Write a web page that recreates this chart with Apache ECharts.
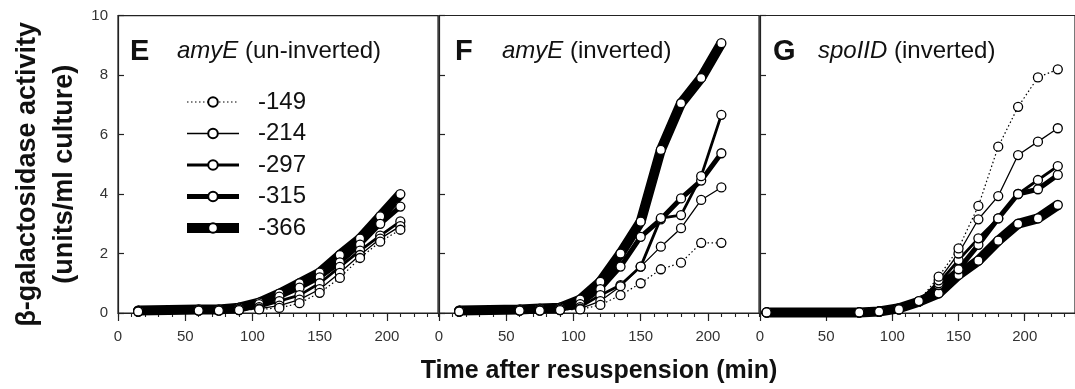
<!DOCTYPE html>
<html><head><meta charset="utf-8">
<script src="https://cdn.jsdelivr.net/npm/echarts@6/dist/echarts.min.js"></script>
<style>html,body{margin:0;padding:0;background:#fff}#c{width:1075px;height:389px}</style>
</head><body><div id="c"></div>
<script>
// ---- data ----
const seriesNames = ['-149', '-214', '-297', '-315', '-366'];
const xTickStep = 50;
const yTickStep = 2;

const timesE = [15, 60, 75, 90, 105, 120, 135, 150, 165, 180, 195, 210];
const timesF = [15, 60, 75, 90, 105, 120, 135, 150, 165, 180, 195, 210];
const timesG = [5, 75, 90, 105, 120, 135, 150, 165, 180, 195, 210, 225];

// Panel E: amyE (un-inverted)
const e149 = [0.05, 0.08, 0.08, 0.10, 0.12, 0.17, 0.33, 0.68, 1.18, 1.85, 2.40, 2.80];
const e214 = [0.05, 0.08, 0.08, 0.10, 0.15, 0.25, 0.45, 0.80, 1.35, 1.95, 2.50, 2.92];
const e297 = [0.05, 0.10, 0.10, 0.12, 0.20, 0.40, 0.60, 1.00, 1.55, 2.10, 2.60, 3.08];
const e315 = [0.08, 0.10, 0.10, 0.15, 0.30, 0.55, 0.85, 1.20, 1.70, 2.30, 3.00, 3.58];
const e366 = [0.08, 0.12, 0.12, 0.18, 0.35, 0.65, 1.00, 1.36, 1.95, 2.50, 3.25, 4.00];

// Panel F: amyE (inverted)
const f149 = [0.05, 0.08, 0.08, 0.10, 0.12, 0.27, 0.60, 1.00, 1.47, 1.69, 2.36, 2.36];
const f214 = [0.05, 0.08, 0.08, 0.10, 0.15, 0.40, 0.90, 1.56, 2.23, 2.85, 3.80, 4.22];
const f297 = [0.05, 0.10, 0.10, 0.12, 0.20, 0.60, 0.94, 1.56, 3.19, 3.29, 4.60, 6.66];
const f315 = [0.08, 0.10, 0.12, 0.15, 0.30, 0.80, 1.56, 2.56, 3.15, 3.85, 4.45, 5.37];
const f366 = [0.08, 0.12, 0.15, 0.18, 0.45, 1.05, 2.00, 3.07, 5.48, 7.05, 7.90, 9.07];

// Panel G: spoIID (inverted)
const g149 = [0.02, 0.02, 0.05, 0.12, 0.40, 1.22, 2.17, 3.60, 5.59, 6.93, 7.92, 8.19];
const g214 = [0.02, 0.02, 0.05, 0.12, 0.40, 1.10, 2.00, 3.15, 3.93, 5.31, 5.76, 6.21];
const g297 = [0.02, 0.02, 0.05, 0.12, 0.38, 1.00, 1.78, 2.51, 3.18, 4.00, 4.47, 4.94];
const g315 = [0.02, 0.02, 0.05, 0.12, 0.38, 0.94, 1.47, 2.29, 3.18, 4.00, 4.16, 4.64];
const g366 = [0.02, 0.02, 0.05, 0.16, 0.38, 0.66, 1.28, 1.76, 2.43, 3.00, 3.18, 3.63];

const panelLetters = ['E', 'F', 'G'];
const panelGenes = ['amyE', 'amyE', 'spoIID'];
const panelNotes = [' (un-inverted)', ' (inverted)', ' (inverted)'];
const panelTimes = [timesE, timesF, timesG];
const panelValues = [
  { '-149': e149, '-214': e214, '-297': e297, '-315': e315, '-366': e366 },
  { '-149': f149, '-214': f214, '-297': f297, '-315': f315, '-366': f366 },
  { '-149': g149, '-214': g214, '-297': g297, '-315': g315, '-366': g366 }
];

// ---- layout / style ----
const FONT = 'Liberation Sans, Arial, Helvetica, sans-serif';
const gridLefts = [118, 439, 760];
const titleLefts = [130, 455, 773];
const letterWidths = [47, 47, 45];
const lineStyles = {
  '-149': { width: 1.2, type: [1.5, 2.5] },
  '-214': { width: 1.3, type: 'solid' },
  '-297': { width: 2.8, type: 'solid' },
  '-315': { width: 5, type: 'solid' },
  '-366': { width: 10, type: 'solid' }
};
const drawOrder = ['-366', '-315', '-297', '-214', '-149'];

const grids = [], xAxes = [], yAxes = [], series = [], titles = [];
for (let i = 0; i < 3; i++) {
  grids.push({ left: gridLefts[i], top: 15.5, width: 320, height: 297.5, show: true,
    borderColor: '#222', borderWidth: 1.2, backgroundColor: 'rgba(0,0,0,0)' });
  const main = {
    gridIndex: i, type: 'value', min: 0, max: 238, interval: xTickStep, position: 'bottom',
    axisLine: { show: true, onZero: false, lineStyle: { color: '#222', width: 1.2 } },
    axisTick: { show: true, inside: false, length: 8, lineStyle: { color: '#222', width: 1.2 } },
    axisLabel: { show: true, showMaxLabel: false, fontSize: 15, color: '#333', margin: 16, fontFamily: FONT },
    splitLine: { show: false }
  };
  if (i === 1) {
    main.name = 'Time after resuspension (min)';
    main.nameLocation = 'middle';
    main.nameGap = 46;
    main.nameTextStyle = { fontSize: 25, fontWeight: 'bold', color: '#111', fontFamily: FONT };
  }
  xAxes.push(main);
  xAxes.push({
    gridIndex: i, type: 'value', min: 0, max: 238, interval: 10, position: 'bottom',
    axisLine: { show: false, onZero: false },
    axisTick: { show: true, inside: false, length: 4, lineStyle: { color: '#222', width: 1.1 } },
    axisLabel: { show: false }, splitLine: { show: false }
  });
  const ya = {
    gridIndex: i, type: 'value', min: 0, max: 10, interval: yTickStep,
    axisLine: { show: true, lineStyle: { color: '#222', width: 1.2 } },
    axisTick: { show: true, inside: true, length: 6, lineStyle: { color: '#222', width: 1.2 } },
    axisLabel: { show: i === 0, fontSize: 15, color: '#333', margin: 10, fontFamily: FONT },
    splitLine: { show: false }
  };
  if (i === 0) {
    ya.name = 'β-galactosidase activity\n(units/ml culture)';
    ya.nameLocation = 'middle';
    ya.nameGap = 35;
    ya.nameTextStyle = { fontSize: 27, fontWeight: 'bold', color: '#111', lineHeight: 37,
      fontFamily: FONT, padding: [0, 20, 0, 0] };
  }
  yAxes.push(ya);

  titles.push({
    text: '{l|' + panelLetters[i] + '}{g|' + panelGenes[i] + '}{n|' + panelNotes[i] + '}',
    left: titleLefts[i], top: 37, padding: 0,
    textStyle: { rich: {
      l: { fontSize: 29, fontWeight: 'bold', color: '#111', width: letterWidths[i], fontFamily: FONT },
      g: { fontSize: 24, fontStyle: 'italic', fontWeight: 'normal', color: '#111', fontFamily: FONT },
      n: { fontSize: 24, fontWeight: 'normal', color: '#111', fontFamily: FONT }
    } }
  });

  drawOrder.forEach(name => {
    const vals = panelValues[i][name];
    series.push({
      type: 'line', name: name, xAxisIndex: 2 * i, yAxisIndex: i,
      data: panelTimes[i].map((t, k) => [t, vals[k]]),
      symbol: 'circle', symbolSize: 9, showSymbol: true,
      lineStyle: { color: '#000', width: lineStyles[name].width, type: lineStyles[name].type },
      itemStyle: { color: '#fff', borderColor: '#000', borderWidth: 1.3 },
      emphasis: { disabled: true }, animation: false
    });
  });
}

const chart = echarts.init(document.getElementById('c'), null, { renderer: 'canvas' });
chart.setOption({
  backgroundColor: '#fff',
  animation: false,
  title: titles,
  legend: {
    data: seriesNames, orient: 'vertical', left: 182, top: 90, padding: 0,
    itemWidth: 52, itemHeight: 12, itemGap: 7.5, selectedMode: false,
    lineStyle: { width: 'inherit' },
    textStyle: { fontSize: 24, color: '#111', lineHeight: 24, padding: [0, 0, 0, 14], fontFamily: FONT }
  },
  grid: grids, xAxis: xAxes, yAxis: yAxes, series: series
});
</script></body></html>
